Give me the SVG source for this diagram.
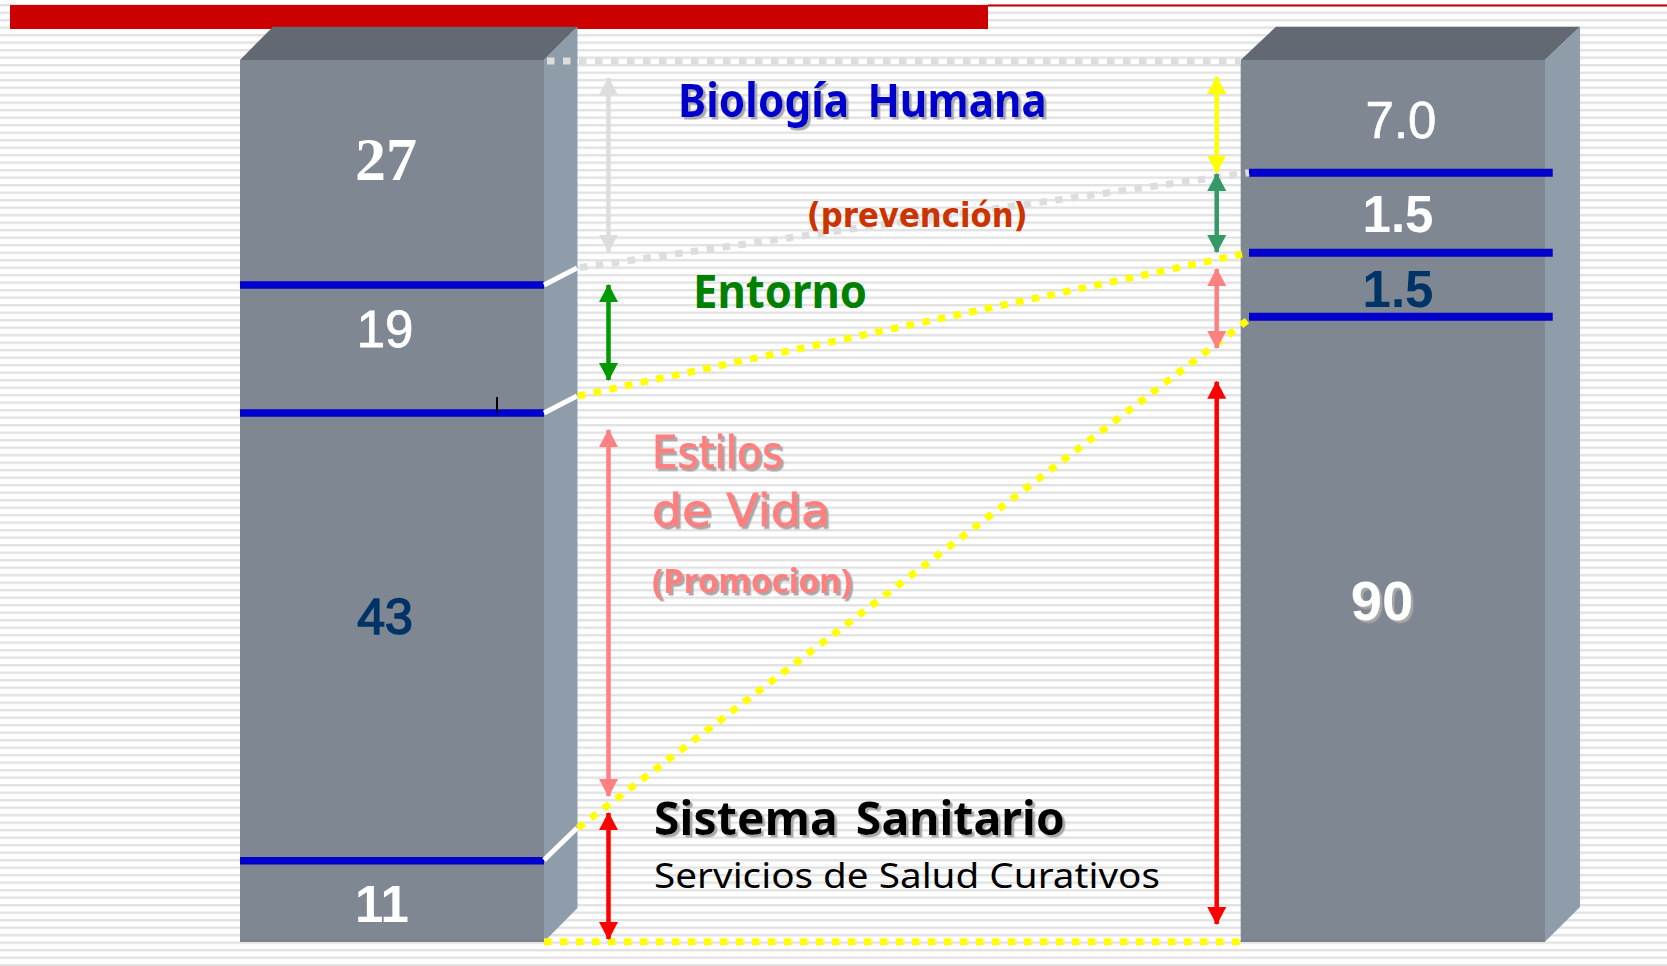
<svg xmlns="http://www.w3.org/2000/svg" width="1667" height="966" viewBox="0 0 1667 966">
<style>
.front{fill:#7E8792;}
.side{fill:#8F9CA9;}
.top{fill:#626973;}
.blue{stroke:#0000CC;stroke-width:7.5;}
.white{stroke:#FFFFFF;stroke-width:5;}
.dotg{stroke:#DDDDDD;stroke-width:7;stroke-dasharray:7.5 8.5;fill:none;}
.doty{stroke:#FFFF00;stroke-width:7;stroke-dasharray:7.5 8.5;fill:none;}
.arr{stroke-width:4.5;fill:none;}
.num{font-family:"Liberation Sans",Arial,sans-serif;text-anchor:middle;}
.comic{font-family:"Noto Sans","DejaVu Sans",sans-serif;font-weight:bold;}
</style>
<defs>
<pattern id="stripes" x="0" y="4" width="20" height="7.5" patternUnits="userSpaceOnUse">
<rect x="0" y="0" width="20" height="2.4" fill="#E2E2E2"/>
</pattern>
<filter id="sh" x="-5%" y="-20%" width="110%" height="140%">
<feDropShadow dx="2.5" dy="2.5" stdDeviation="0.6" flood-color="#A8A8A8" flood-opacity="1"/>
</filter>
<marker id="mGray" viewBox="0 0 18 19" refX="17" refY="9.5" markerWidth="18" markerHeight="19" markerUnits="userSpaceOnUse" orient="auto-start-reverse"><path d="M0,0 L18,9.5 L0,19 z" fill="#DDDDDD"/></marker>
<marker id="mGreen" viewBox="0 0 18 19" refX="17" refY="9.5" markerWidth="18" markerHeight="19" markerUnits="userSpaceOnUse" orient="auto-start-reverse"><path d="M0,0 L18,9.5 L0,19 z" fill="#009900"/></marker>
<marker id="mPink" viewBox="0 0 18 19" refX="17" refY="9.5" markerWidth="18" markerHeight="19" markerUnits="userSpaceOnUse" orient="auto-start-reverse"><path d="M0,0 L18,9.5 L0,19 z" fill="#FF8080"/></marker>
<marker id="mRed" viewBox="0 0 18 19" refX="17" refY="9.5" markerWidth="18" markerHeight="19" markerUnits="userSpaceOnUse" orient="auto-start-reverse"><path d="M0,0 L18,9.5 L0,19 z" fill="#FF0000"/></marker>
<marker id="mYellow" viewBox="0 0 18 19" refX="17" refY="9.5" markerWidth="18" markerHeight="19" markerUnits="userSpaceOnUse" orient="auto-start-reverse"><path d="M0,0 L18,9.5 L0,19 z" fill="#FFFF00"/></marker>
<marker id="mTeal" viewBox="0 0 18 19" refX="17" refY="9.5" markerWidth="18" markerHeight="19" markerUnits="userSpaceOnUse" orient="auto-start-reverse"><path d="M0,0 L18,9.5 L0,19 z" fill="#339966"/></marker>
</defs>

<g id="background">
<rect x="0" y="0" width="1667" height="966" fill="#FFFFFF"/>
<rect x="0" y="0" width="1667" height="966" fill="url(#stripes)"/>
<rect x="10" y="5" width="978" height="24" fill="#CC0000"/>
<rect x="988" y="4.5" width="679" height="2" fill="#CC0000"/>
</g>

<g id="left-bar">
<polygon class="top" points="240,60 273,26.7 577.5,26.7 544,60"/>
<polygon class="side" points="544,60 577.5,26.7 577.5,908 544,941.7"/>
<rect class="front" x="240" y="60" width="304" height="881.7"/>
<line x1="240" y1="941" x2="544" y2="941" stroke="#737B86" stroke-width="1.5"/>
<line class="blue" x1="240" y1="285" x2="544" y2="285"/>
<line class="blue" x1="240" y1="413" x2="544" y2="413"/>
<line class="blue" x1="240" y1="860.7" x2="544" y2="860.7"/>
<line x1="497" y1="397" x2="497" y2="413" stroke="#000000" stroke-width="2"/>
</g>

<g id="right-bar">
<polygon class="top" points="1240.7,60 1276,26.7 1580,26.7 1545,60"/>
<polygon class="side" points="1545,60 1580,26.7 1580,907 1545,941.7"/>
<rect class="front" x="1240.7" y="60" width="304.3" height="881.7"/>
<line x1="1240.7" y1="941" x2="1545" y2="941" stroke="#737B86" stroke-width="1.5"/>
<line class="blue" x1="1249" y1="172.7" x2="1552.7" y2="172.7" style="stroke-width:8"/>
<line class="blue" x1="1249" y1="252.7" x2="1552.7" y2="252.7" style="stroke-width:8"/>
<line class="blue" x1="1249" y1="316.7" x2="1552.7" y2="316.7" style="stroke-width:8"/>
</g>

<g id="connectors">
<line class="white" x1="544" y1="285" x2="577" y2="268"/>
<line class="white" x1="544" y1="413" x2="577" y2="396"/>
<line class="white" x1="544" y1="860" x2="577" y2="828"/>
<line class="dotg" x1="547" y1="61" x2="1240" y2="61"/>
<line class="dotg" x1="580" y1="267.5" x2="1249" y2="172.7"/>
<line class="doty" x1="578" y1="396" x2="1242" y2="254"/>
<line class="doty" x1="578" y1="828" x2="1248" y2="320"/>
<line class="doty" x1="544" y1="941.7" x2="1240" y2="941.7"/>
<line class="arr" x1="608.5" y1="78" x2="608.5" y2="251.7" stroke="#DDDDDD" marker-start="url(#mGray)" marker-end="url(#mGray)"/>
<line class="arr" x1="608.5" y1="285" x2="608.5" y2="380" stroke="#009900" marker-start="url(#mGreen)" marker-end="url(#mGreen)"/>
<line class="arr" x1="608.5" y1="430" x2="608.5" y2="796" stroke="#FF8080" marker-start="url(#mPink)" marker-end="url(#mPink)"/>
<line class="arr" x1="608.5" y1="813" x2="608.5" y2="939" stroke="#FF0000" marker-start="url(#mRed)" marker-end="url(#mRed)"/>
<line class="arr" x1="1216.7" y1="77" x2="1216.7" y2="172.5" stroke="#FFFF00" marker-start="url(#mYellow)" marker-end="url(#mYellow)"/>
<line class="arr" x1="1216.7" y1="174" x2="1216.7" y2="252" stroke="#339966" marker-start="url(#mTeal)" marker-end="url(#mTeal)"/>
<line class="arr" x1="1216.7" y1="269" x2="1216.7" y2="348" stroke="#FF8080" marker-start="url(#mPink)" marker-end="url(#mPink)"/>
<line class="arr" x1="1216.7" y1="381.7" x2="1216.7" y2="924" stroke="#FF0000" marker-start="url(#mRed)" marker-end="url(#mRed)"/>
</g>

<g id="left-values">
<text x="386" y="180" font-family="'Liberation Serif','Times New Roman',serif" font-weight="bold" font-size="62" fill="#FFFFFF" text-anchor="middle">27</text>
<text class="num" x="385" y="346.7" font-size="51" fill="#FFFFFF" stroke="#FFFFFF" stroke-width="0.8">19</text>
<text class="num" x="385" y="634" font-size="50" fill="#003366" stroke="#003366" stroke-width="1.6">43</text>
<text class="num" x="382" y="921.7" font-size="51" font-weight="bold" fill="#FFFFFF">11</text>
</g>

<g id="right-values">
<text class="num" x="1401" y="138" font-size="51" fill="#FFFFFF" stroke="#FFFFFF" stroke-width="0.6">7.0</text>
<text class="num" x="1398" y="231.7" font-size="51" font-weight="bold" fill="#FFFFFF">1.5</text>
<text class="num" x="1398" y="306.7" font-size="51" font-weight="bold" fill="#003366">1.5</text>
<text class="num" x="1382" y="620" font-size="56" font-weight="bold" fill="#FFFFFF" filter="url(#sh)">90</text>
</g>

<g id="label-biologia">
<text class="comic" x="678" y="116.7" font-size="47" fill="#0000CC" textLength="369" lengthAdjust="spacingAndGlyphs" word-spacing="8" filter="url(#sh)">Biología Humana</text>
<text x="806.7" y="226.7" font-family="'DejaVu Sans','Liberation Sans',sans-serif" font-weight="bold" font-size="34" fill="#CC3300" textLength="221" lengthAdjust="spacingAndGlyphs">(prevención)</text>
</g>

<g id="label-entorno">
<text class="comic" x="693" y="308" font-size="46" fill="#008000" textLength="174" lengthAdjust="spacingAndGlyphs">Entorno</text>
</g>

<g id="label-estilos">
<text x="652" y="468" font-family="'DejaVu Sans','Liberation Sans',sans-serif" font-size="45" fill="#FF7F7F" stroke="#FF7F7F" stroke-width="0.8" textLength="131" lengthAdjust="spacingAndGlyphs" filter="url(#sh)">Estilos</text>
<text x="652" y="526" font-family="'DejaVu Sans','Liberation Sans',sans-serif" font-size="45" fill="#FF7F7F" stroke="#FF7F7F" stroke-width="0.8" textLength="178" lengthAdjust="spacingAndGlyphs" filter="url(#sh)">de Vida</text>
<text class="comic" x="652" y="593" font-size="34" fill="#FF7F7F" textLength="200" lengthAdjust="spacingAndGlyphs" filter="url(#sh)">(Promocion)</text>
</g>

<g id="label-sistema">
<text class="comic" x="654" y="835" font-size="47" fill="#000000" textLength="411" lengthAdjust="spacingAndGlyphs" word-spacing="6" filter="url(#sh)">Sistema Sanitario</text>
<text x="654" y="888" font-family="'Noto Sans','DejaVu Sans',sans-serif" font-size="34" fill="#000000" textLength="506" lengthAdjust="spacingAndGlyphs">Servicios de Salud Curativos</text>
</g>
</svg>
